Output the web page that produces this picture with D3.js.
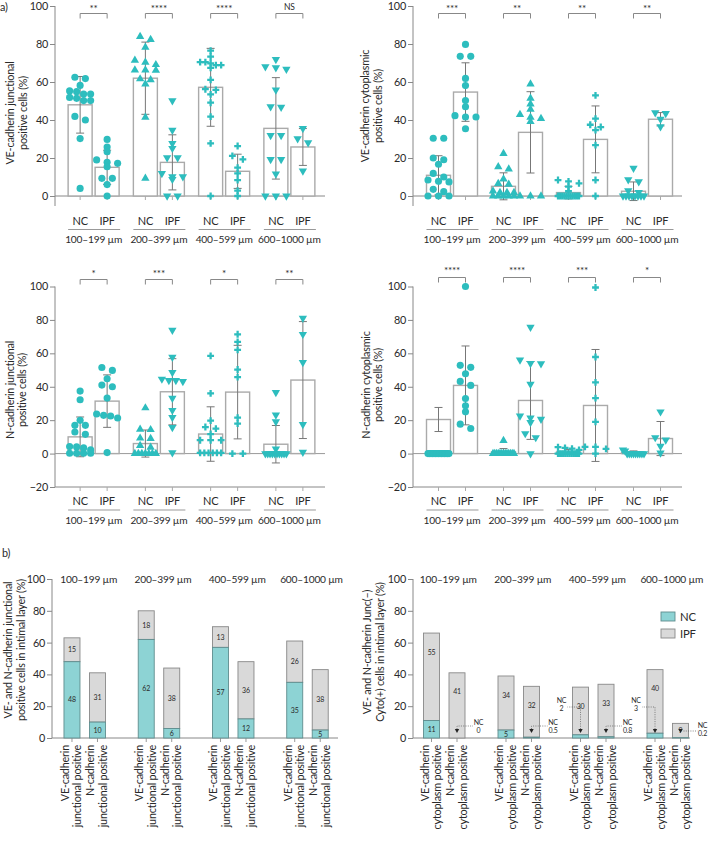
<!DOCTYPE html>
<html><head><meta charset="utf-8">
<script src="https://cdn.jsdelivr.net/npm/d3@7"></script>
<style>body{margin:0;background:#fff} svg{display:block} text{font-family:Lato, "Noto Sans", sans-serif;fill:#2a2a2a;letter-spacing:-0.2px}</style>
</head><body><svg id="c" width="711" height="844"></svg>
<script>
// ---------- DATA ----------
const groups = ["100–199 µm","200–399 µm","400–599 µm","600–1000 µm"];
const conds = ["NC","IPF"];
const yTicksA = [0,20,40,60,80,100];
const yTicksA2 = [-20,0,20,40,60,80,100];

// a) VE-cadherin junctional
const veJuncMean = [48, 15.1, 62, 17.7, 57.2, 13, 35.6, 25.8];
const veJuncSD = [14.9, 9, 19, 14.5, 20.5, 9, 26.7, 9.7];
const veJuncPts = [
  [62.5,61.8,58.2,55.3,54.9,53.7,53.7,51.9,51.4,50.2,50.2,41.9,40,30.2,4],
  [29.8,25.8,23.3,19,17.7,17.2,15.4,9.3,9.3,6,0],
  [83.9,82.3,78.2,71.4,70.4,69.1,66.3,66.3,66.1,61.6,61.1,58.9,41.4,9.3],
  [50.2,34.7,27.7,25.1,20.2,20.2,11.9,10.2,10.2,8.8,0,0],
  [76.5,73.3,70.5,70.5,69.8,68.9,68.9,67.4,61.1,56.2,55.8,53.5,49.1,41.8,27.7,0],
  [26.3,21.1,19.3,14.9,11.9,8.4,2.8,0],
  [71.9,68.1,67.5,66.8,55.8,47,46.7,31.9,31.9,19.3,19.3,11.6,0,0,0],
  [35.6,30.2,28.1,13.2]
];
const veJuncShapes = ["circle","circle","triangle","triangleDown","cross","cross","triangleDown","triangleDown"];
const veJuncSig = ["**","****","****","NS"];

// a) VE-cadherin cytoplasmic
const veCytoMean = [10.9, 54.7, 5.1, 33.5, 1.8, 29.8, 2.5, 40.4];
const veCytoSD = [10.3, 15.4, 7.1, 21.4, 3.3, 17.6, 4.9, 3.5];
const veCytoPts = [
  [30.4,30.4,20,19.1,16.7,11.9,10,8.4,7.7,7.4,3.5,2.3,0,0,0],
  [79.8,73.5,73.5,61.9,58.1,50.2,47,42.3,41.6,41.6,35.4],
  [22.3,15.4,14.2,8.9,6.5,6.1,2.6,1.8,1.8,1.8,0,0,0,0,0],
  [58.9,51.4,48.4,45.6,42.8,41.4,40.7,39.1,0,0,0],
  [8.4,7.7,6.7,4.9,2.5,0,0,0,0,0,0,0,0,0,0,0],
  [53,40.7,37.5,36.3,34.7,26.8,8.4,0],
  [14.6,8.6,7.5,2.8,1.9,0,0,0,0,0,0,0,0],
  [43.9,43.5,40.4,36.5]
];
const veCytoShapes = ["circle","circle","triangle","triangle","cross","cross","triangleDown","triangleDown"];
const veCytoSig = ["***","**","**","**"];

// a) N-cadherin junctional
const nJuncMean = [10, 31.4, 6, 37, 11.7, 36.8, 5.6, 44];
const nJuncSD = [11.9, 15.7, 8.1, 19.8, 16.3, 28, 11.2, 35];
const nJuncPts = [
  [37.4,32.2,19.9,16.9,16.9,12.9,11.5,4.2,4,3.4,2.2,0.2,0.2,0.2,0.2],
  [51.5,49.8,44.8,41,40,33.2,23.7,22.9,22.5,21.3,0.6],
  [27.3,14.5,14.3,9.2,9,4.8,3.8,0,0,0,0,0,0,0],
  [73.8,57.7,48.6,44.6,43.8,43.8,43.2,33.2,25.9,21.7,15.7,0.6],
  [58.5,36,19.7,15.9,14.9,11.7,8,8,8,0.4,0.4,0.4,0.4,0.4,0.4],
  [71.4,66.9,62.1,50.3,45.8,21.5,17.9,0,0],
  [36.6,23.1,19.1,2.8,0,0,0,0,0,0,0,0,0,0],
  [81,71.4,54.5,17.5,0.8]
];
const nJuncShapes = ["circle","circle","triangle","triangleDown","cross","cross","triangleDown","triangleDown"];
const nJuncSig = ["*","***","*","**"];

// a) N-cadherin cytoplasmic
const nCytoMean = [20.4, 40.8, 1, 31.8, 1, 28.8, 0.6, 9];
const nCytoSD = [7.2, 23.6, 2, 23.3, 1.5, 33.5, 1, 10.2];
const nCytoPts = [
  [0,0,0,0,0,0,0,0,0,0,0,0,0,0,0],
  [100,52.8,51.6,47.8,43.2,40.8,33,28.6,25,17.6,15],
  [7.8,0,0,0,0,0,0,0,0,0,0,0,0,0],
  [75.6,56,54,53.8,41.6,22.6,21.4,20.6,18.6,12,9.6,0],
  [3.8,3.4,3,2.2,0,0,0,0,0,0,0,0,0,0,0,0],
  [99.4,57.8,42.6,33.2,19,4,4,2.8,0],
  [2.2,1.6,0,0,0,0,0,0,0,0,0],
  [25,9.6,8.2,4.4,0.4]
];
const nCytoShapes = ["circle","circle","triangle","triangleDown","cross","cross","triangleDown","triangleDown"];
const nCytoSig = ["****","****","***","*"];

// b) stacked bars
const bBars = ["VE-cadherin","N-cadherin"];
const junctNC = [48, 10, 62, 6, 57, 12, 35, 5];
const junctIPF = [15, 31, 18, 38, 13, 36, 26, 38];
const cytoNC = [11, 0, 5, 0.5, 2, 0.8, 3, 0.2];
const cytoIPF = [55, 41, 34, 32, 30, 33, 40, 9];
const yTicksB = [0,20,40,60,80,100];

// ---------- DRAW ----------
const svg = d3.select("#c");
const tealPt = "#2dbdbe", tealFill = "#8dd3d4", grayFill = "#d9d9d9";
const fmt = d => d < 0 ? "\u2212" + Math.abs(d) : d;
const FS = 10.8, GFS = 10.2;

function symPath(shape){
  const t = shape === "circle" ? d3.symbolCircle : shape === "cross" ? d3.symbolCross : d3.symbolTriangle;
  const s = shape === "circle" ? 40 : shape === "cross" ? 26 : 30;
  return d3.symbol().type(t).size(s)();
}

function swarm(vals, y, maxW){
  const sorted = vals.slice().sort((a,b)=>b-a);
  const rows = [];
  sorted.forEach(v => {
    const py = y(v);
    const last = rows[rows.length-1];
    if (last && Math.abs(py - last.py0) < 4.5) last.items.push(v);
    else rows.push({py0: py, items:[v]});
  });
  const out = [];
  rows.forEach(r => {
    const n = r.items.length;
    const sp = n > 1 ? Math.min(10.5, maxW/(n-1)) : 0;
    r.items.forEach((v,i) => out.push({v, dx: (i-(n-1)/2)*sp}));
  });
  return out;
}

function rotTitle(lines, xs, cy, size){
  lines.forEach((t,i) => {
    svg.append("text").attr("transform", `translate(${xs[i]},${cy}) rotate(-90)`)
      .attr("text-anchor","middle").attr("font-size", size).text(t);
  });
}

function drawA(c){
  const y = d3.scaleLinear().domain(c.yDomain).range(c.yRange);
  const xg = d3.scaleBand().domain(groups).range(c.xRange);
  const cx = i => xg(groups[Math.floor(i/2)]) + xg.bandwidth()/2 + (i%2===0 ? -13.5 : 13.5);
  const g = svg.append("g");
  const ax = g.append("g").attr("transform",`translate(${c.axisX},0)`)
    .call(d3.axisLeft(y).tickValues(c.ticks).tickSize(5).tickPadding(2).tickFormat(fmt));
  ax.select(".domain").remove();
  ax.selectAll(".tick line").attr("stroke","#888");
  ax.selectAll(".tick text").attr("font-size",FS).attr("fill","#2a2a2a").style("font-family","Lato");
  g.append("line").attr("x1",c.axisX).attr("x2",c.axisX).attr("y1",y(c.yDomain[1])).attr("y2",c.axisBottom).attr("stroke","#888");
  g.append("line").attr("x1",c.axisX).attr("x2",c.xEnd).attr("y1",c.xAxisY).attr("y2",c.xAxisY).attr("stroke","#888");
  if (c.zeroLine) g.append("line").attr("x1",c.axisX).attr("x2",c.xEnd).attr("y1",y(0)).attr("y2",y(0)).attr("stroke","#999");
  d3.range(8).forEach(i => g.append("line").attr("x1",cx(i)).attr("x2",cx(i)).attr("y1",c.xAxisY).attr("y2",c.xAxisY+4).attr("stroke","#aaa"));
  c.mean.forEach((m,i) => {
    g.append("rect").attr("x",cx(i)-12).attr("width",24).attr("y",y(m)).attr("height",y(0)-y(m))
      .attr("fill","#fff").attr("stroke","#aaa").attr("stroke-width",1.4);
  });
  c.mean.forEach((m,i) => {
    const lo = y(m - c.sd[i]), hi = y(m + c.sd[i]), x = cx(i);
    g.append("line").attr("x1",x).attr("x2",x).attr("y1",lo).attr("y2",hi).attr("stroke","#777");
    [lo,hi].forEach(yy => g.append("line").attr("x1",x-4).attr("x2",x+4).attr("y1",yy).attr("y2",yy).attr("stroke","#777"));
  });
  c.pts.forEach((arr,i) => {
    const shape = c.shapes[i];
    const p = symPath(shape);
    swarm(arr, y, 21).forEach(d => {
      g.append("path").attr("d", p)
        .attr("transform", `translate(${cx(i)+d.dx},${y(d.v)})` + (shape==="triangleDown" ? " rotate(180)" : ""))
        .attr("fill", tealPt);
    });
  });
  d3.range(8).forEach(i => g.append("text").attr("x",cx(i)).attr("y",c.labelY).attr("text-anchor","middle").attr("font-size",FS+0.2).text(conds[i%2]));
  groups.forEach((gr,k) => {
    const a = cx(2*k)-12, b = cx(2*k+1)+13;
    g.append("line").attr("x1",a).attr("x2",b).attr("y1",c.ulY).attr("y2",c.ulY).attr("stroke","#999");
    g.append("text").attr("x",(cx(2*k)+cx(2*k+1))/2).attr("y",c.grpY).attr("text-anchor","middle").attr("font-size",GFS).text(gr);
    const x1 = cx(2*k), x2 = cx(2*k+1);
    g.append("path").attr("d",`M${x1},${c.brY+5}V${c.brY}H${x2}V${c.brY+5}`).attr("fill","none").attr("stroke","#888");
    const s = c.sig[k];
    g.append("text").attr("x",(x1+x2)/2).attr("y", s==="NS" ? c.brY-3.5 : c.starY)
      .attr("text-anchor","middle").attr("font-size", s==="NS" ? 8.5 : 10).text(s);
  });
  rotTitle(c.title, c.titleX, c.titleCY, FS);
}

drawA({yDomain:[0,100], yRange:[196,6], xRange:[61,322], axisX:55, axisBottom:206, xAxisY:196, xEnd:325, ticks:yTicksA,
  mean:veJuncMean, sd:veJuncSD, pts:veJuncPts, shapes:veJuncShapes, sig:veJuncSig,
  labelY:225, ulY:229.5, grpY:243, brY:13.5, starY:11.8,
  title:["VE-cadherin junctional","positive cells (%)"], titleX:[14,26.5], titleCY:113});
drawA({yDomain:[0,100], yRange:[196,6], xRange:[419.5,679.5], axisX:413, axisBottom:206, xAxisY:196, xEnd:682, ticks:yTicksA,
  mean:veCytoMean, sd:veCytoSD, pts:veCytoPts, shapes:veCytoShapes, sig:veCytoSig,
  labelY:225, ulY:229.5, grpY:243, brY:13.5, starY:11.8,
  title:["VE-cadherin cytoplasmic","positive cells (%)"], titleX:[369,381.5], titleCY:106});
drawA({yDomain:[-20,100], yRange:[487,286.5], xRange:[61,322], axisX:55, axisBottom:487, xAxisY:487, xEnd:325, ticks:yTicksA2, zeroLine:true,
  mean:nJuncMean, sd:nJuncSD, pts:nJuncPts, shapes:nJuncShapes, sig:nJuncSig,
  labelY:505, ulY:510, grpY:524, brY:279.5, starY:277.3,
  title:["N-cadherin junctional","positive cells (%)"], titleX:[14,25.5], titleCY:390});
drawA({yDomain:[-20,100], yRange:[487,286.5], xRange:[419.5,679.5], axisX:413, axisBottom:487, xAxisY:487, xEnd:682, ticks:yTicksA2, zeroLine:true,
  mean:nCytoMean, sd:nCytoSD, pts:nCytoPts, shapes:nCytoShapes, sig:nCytoSig,
  labelY:505, ulY:510, grpY:524, brY:277.5, starY:274,
  title:["N-cadherin cytoplasmic","positive cells (%)"], titleX:[370,382], titleCY:385});

function drawB(c){
  const y = d3.scaleLinear().domain([0,100]).range([738,579]);
  const xg = d3.scaleBand().domain(groups).range(c.xRange);
  const cx = i => xg(groups[Math.floor(i/2)]) + xg.bandwidth()/2 + (i%2===0 ? -12.75 : 12.75);
  const g = svg.append("g");
  const ax = g.append("g").attr("transform",`translate(${c.axisX},0)`)
    .call(d3.axisLeft(y).tickValues(yTicksB).tickSize(5).tickPadding(2));
  ax.select(".domain").remove();
  ax.selectAll(".tick line").attr("stroke","#888");
  ax.selectAll(".tick text").attr("font-size",FS).attr("fill","#2a2a2a").style("font-family","Lato");
  g.append("line").attr("x1",c.axisX).attr("x2",c.axisX).attr("y1",579).attr("y2",738).attr("stroke","#888");
  g.append("line").attr("x1",c.axisX).attr("x2",c.xEnd).attr("y1",738).attr("y2",738).attr("stroke","#888");
  d3.range(8).forEach(i => g.append("line").attr("x1",cx(i)).attr("x2",cx(i)).attr("y1",738).attr("y2",742).attr("stroke","#999"));
  c.nc.forEach((n,i) => {
    const t = n + c.ipf[i], x = cx(i);
    g.append("rect").attr("x",x-8).attr("width",16).attr("y",y(t)).attr("height",y(n)-y(t))
      .attr("fill",grayFill).attr("stroke","#888").attr("stroke-width",0.9);
    if (n > 0) g.append("rect").attr("x",x-8).attr("width",16).attr("y",y(n)).attr("height",y(0)-y(n))
      .attr("fill",tealFill).attr("stroke","#5f8d8e").attr("stroke-width",0.9);
    const ipfCenter = n + c.ipf[i]/2;
    const ly = c.labelTop ? Math.max(ipfCenter, t - 12) : ipfCenter;
    g.append("text").attr("x",x).attr("y",y(ly)+2.5).attr("text-anchor","middle").attr("font-size",7).attr("fill","#444").text(c.ipf[i]);
    if (n >= 4) g.append("text").attr("x",x).attr("y",y(n/2)+2.5).attr("text-anchor","middle").attr("font-size",7).attr("fill","#444").text(n);
    else {
      const y0 = y(0);
      g.append("path").attr("d",`M${x-2.2},${y0-9}L${x+2.2},${y0-9}L${x},${y0-5}Z`).attr("fill","#222");
      let path, tx, ty1, ty2;
      if (i % 2 === 0) {
        path = `M${x},${y0-9}V${y0-31}H${x-13}`; tx = x-19; ty1 = y0-35; ty2 = y0-27;
      } else if (c.ipf[i] < 15) {
        path = `M${x+3},${y0-7}H${x+17}`; tx = x+22; ty1 = y0-10.5; ty2 = y0-2.5;
      } else {
        path = `M${x},${y0-9}V${y0-12}H${x+16}`; tx = x+21.5; ty1 = y0-13.5; ty2 = y0-5;
      }
      g.append("path").attr("d",path).attr("fill","none").attr("stroke","#555").attr("stroke-width",0.7).attr("stroke-dasharray","1,1.3");
      g.append("text").attr("x",tx).attr("y",ty1).attr("text-anchor","middle").attr("font-size",7).attr("fill","#444").text("NC");
      g.append("text").attr("x",tx).attr("y",ty2).attr("text-anchor","middle").attr("font-size",7).attr("fill","#444").text(String(n));
    }
    [bBars[i%2], c.line2].forEach((t2,j) => {
      g.append("text").attr("transform",`translate(${x + (j===0 ? -3 : 9.5)},745) rotate(-90)`)
        .attr("text-anchor","end").attr("font-size",FS).text(t2);
    });
  });
  groups.forEach((gr,k) => {
    g.append("text").attr("x",xg(gr)+xg.bandwidth()/2+4).attr("y",583).attr("text-anchor","middle").attr("font-size",GFS).text(gr);
  });
  rotTitle(c.title, c.titleX, c.titleCY, FS);
}

drawB({axisX:52, xEnd:338, xRange:[47.6,344.6], nc:junctNC, ipf:junctIPF, line2:"junctional positive",
  title:["VE- and N-cadherin junctional","positive  cells in intimal layer (%)"], titleX:[12,25], titleCY:650});
drawB({axisX:413, xEnd:690, xRange:[407,705], nc:cytoNC, ipf:cytoIPF, line2:"cytoplasm positive", labelTop:true,
  title:["VE- and N-cadherin Junc(\u2013)","Cyto(+) cells in intimal layer (%)"], titleX:[371,384], titleCY:652});

const leg = svg.append("g");
[["NC",tealFill,"#5f8d8e",612],["IPF",grayFill,"#888",629]].forEach(([t,f,s,yy]) => {
  leg.append("rect").attr("x",661).attr("y",yy).attr("width",14).attr("height",9).attr("fill",f).attr("stroke",s).attr("stroke-width",0.9);
  leg.append("text").attr("x",680).attr("y",yy+8.5).attr("font-size",FS+0.5).text(t);
});

svg.append("text").attr("x",0).attr("y",11).attr("font-size",FS).text("a)");
svg.append("text").attr("x",2).attr("y",557).attr("font-size",FS).text("b)");
</script></body></html>
